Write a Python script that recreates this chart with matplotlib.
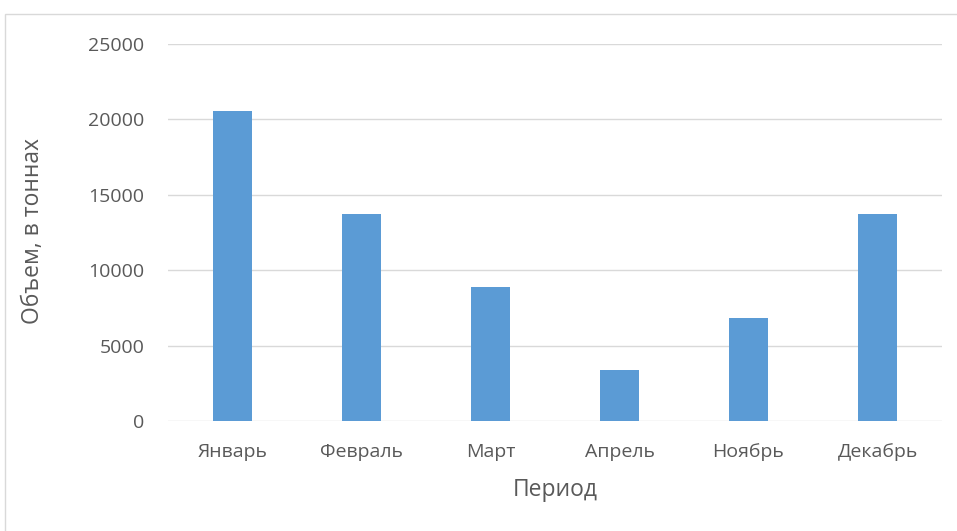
import matplotlib
matplotlib.use("Agg")
import matplotlib.pyplot as plt
from matplotlib.patches import Rectangle

months = ["Январь", "Февраль", "Март", "Апрель", "Ноябрь", "Декабрь"]
volumes = [20550, 13700, 8900, 3400, 6850, 13700]
yticks = [0, 5000, 10000, 15000, 20000, 25000]

plt.rcParams['font.family'] = ['Open Sans', 'DejaVu Sans']

W, H = 957, 531
fig = plt.figure(figsize=(W / 100, H / 100), dpi=100)

# outer chart frame (partly clipped by the image edge)
fig.patches.append(Rectangle((5 / W, -0.1), 1.2, 1 - 14 / H + 0.1,
                             transform=fig.transFigure, fill=False,
                             edgecolor='#d9d9d9', linewidth=1.0))

ax = fig.add_axes([168 / W, 1 - 421 / H, (942 - 168) / W, (421 - 44) / H])
x = range(len(months))
ax.bar(x, volumes, width=0.31, color='#5b9bd5', zorder=3)

ax.set_xlim(-0.5, len(months) - 0.5)
ax.set_ylim(0, 25000)
ax.set_yticks(yticks)
ax.set_yticklabels([str(v) for v in yticks])
ax.set_xticks(list(x))
ax.set_xticklabels(months)

ax.grid(axis='y', color='#d9d9d9', linewidth=1.0, zorder=0)
for s in ax.spines.values():
    s.set_visible(False)
ax.tick_params(axis='both', length=0, labelsize=14, colors='#595959')
ax.tick_params(axis='x', pad=16)
ax.tick_params(axis='y', pad=17)

ax.set_xlabel("Период", fontsize=16.5, color='#595959')
ax.set_ylabel("Объем, в тоннах", fontsize=16.5, color='#595959')
ax.xaxis.set_label_coords(0.5, (421 - 490) / 377)
ax.xaxis.label.set_va('center')
ax.yaxis.set_label_coords((33 - 168) / 774, (421 - 231) / 377)
ax.yaxis.label.set_va('center')

fig.savefig("out.png", dpi=100, facecolor='white')
